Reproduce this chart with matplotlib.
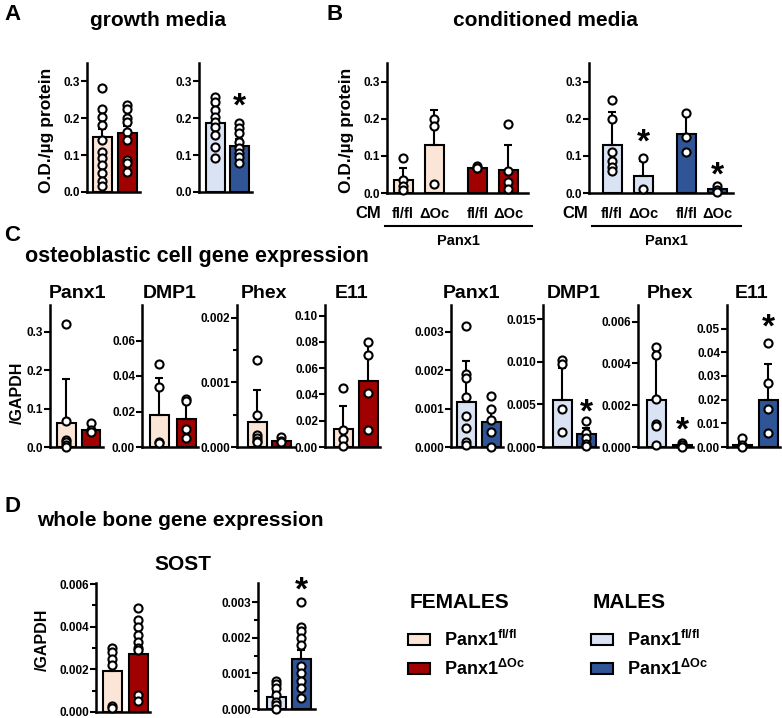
import numpy as np
import matplotlib
matplotlib.use("Agg")
import matplotlib.pyplot as plt
from matplotlib.patches import Patch
from matplotlib.lines import Line2D

plt.rcParams['font.family'] = ['Liberation Sans', 'DejaVu Sans']
plt.rcParams['font.weight'] = 'bold'
plt.rcParams['mathtext.fontset'] = 'custom'
plt.rcParams['mathtext.rm'] = 'Liberation Sans:bold'
plt.rcParams['mathtext.it'] = 'Liberation Sans:bold'
plt.rcParams['mathtext.bf'] = 'Liberation Sans:bold'
plt.rcParams['mathtext.default'] = 'bf'

W, H = 782, 718
F_FL, F_OC = "#FBE5D6", "#A00000"
M_FL, M_OC = "#DAE3F3", "#2F5597"

# ---- A: growth media (O.D./ug protein)
a_f_medias = [0.148, 0.160]
a_f_err = [0.022, 0.020]
a_f_pts = [[0.283, 0.226, 0.204, 0.183, 0.142, 0.109, 0.093, 0.074, 0.052, 0.03, 0.015],
           [0.237, 0.226, 0.20, 0.19, 0.163, 0.142, 0.087, 0.079, 0.054]]
a_m_medias = [0.188, 0.125]
a_m_err = [0.015, 0.020]
a_m_pts = [[0.259, 0.243, 0.223, 0.204, 0.19, 0.177, 0.155, 0.123, 0.093],
           [0.188, 0.174, 0.16, 0.136, 0.12, 0.106, 0.095, 0.08]]
a_m_estrella = 0.25

# ---- B: conditioned media
cm_etiquetas = ["fl/fl", "ΔOc", "fl/fl", "ΔOc"]
b_f_medias = [0.035, 0.13, 0.068, 0.062]
b_f_err = [0.033, 0.093, 0.004, 0.066]
b_f_pts = [[0.095, 0.035, 0.02, 0.008], [0.20, 0.18, 0.025],
           [0.072, 0.068, 0.066], [0.187, 0.06, 0.03, 0.01]]
b_m_medias = [0.13, 0.045, 0.158, 0.01]
b_m_err = [0.088, 0.040, 0.060, 0.006]
b_m_pts = [[0.25, 0.20, 0.11, 0.085, 0.07, 0.06], [0.095, 0.012],
           [0.215, 0.15, 0.11], [0.018, 0.008, 0.004]]
b_m_estrellas = {1: 0.153, 3: 0.063}

# ---- C: osteoblastic cell gene expression (/GAPDH)
genes = ["Panx1", "DMP1", "Phex", "E11"]
c_f_medias = [[0.062, 0.045], [0.018, 0.0155], [0.00038, 0.0001], [0.0135, 0.05]]
c_f_err = [[0.115, 0.0], [0.021, 0.011], [0.0005, 0.00005], [0.0175, 0.028]]
c_f_pts = [[[0.32, 0.068, 0.018, 0.012, 0.006, 0.0], [0.062, 0.045, 0.04]],
           [[0.047, 0.034, 0.003, 0.002], [0.027, 0.026, 0.01, 0.005]],
           [[0.00135, 0.0005, 0.00018, 0.00014, 0.0001, 0.00007], [0.00015, 0.0001, 0.00008]],
           [[0.045, 0.013, 0.006, 0.001], [0.08, 0.07, 0.041, 0.013]]]
c_m_medias = [[0.00118, 0.00065], [0.0055, 0.0015], [0.00225, 0.0001], [0.0008, 0.02]]
c_m_err = [[0.00105, 0.0003], [0.0038, 0.0007], [0.0025, 0.00005], [0.0012, 0.015]]
c_m_pts = [[[0.00315, 0.0019, 0.0018, 0.0013, 0.0008, 0.0005, 0.00012, 0.00005],
            [0.00133, 0.001, 0.0007, 0.0004, 0.0]],
           [[0.0102, 0.0098, 0.0045, 0.0018], [0.003, 0.0017, 0.001, 0.0004, 0.0001]],
           [[0.0048, 0.0044, 0.0023, 0.0011, 0.001, 0.0001], [0.0002, 0.0001, 0.0]],
           [[0.004, 0.001, 0.0], [0.044, 0.027, 0.016, 0.006]]]
c_m_estrellas = [None, 0.0048, 0.0011, 0.053]

c_f_ylim = [0.37, 0.08, 0.0022, 0.108]
c_f_ticks = [[0, 0.1, 0.2, 0.3], [0, 0.02, 0.04, 0.06], [0, 0.001, 0.002], [0, 0.02, 0.04, 0.06, 0.08, 0.10]]
c_f_tl = [["0.0", "0.1", "0.2", "0.3"], ["0.00", "0.02", "0.04", "0.06"],
          ["0.000", "0.001", "0.002"], ["0.00", "0.02", "0.04", "0.06", "0.08", "0.10"]]
c_m_ylim = [0.0037, 0.0167, 0.0068, 0.060]
c_m_ticks = [[0, 0.001, 0.002, 0.003], [0, 0.005, 0.010, 0.015], [0, 0.002, 0.004, 0.006],
             [0, 0.01, 0.02, 0.03, 0.04, 0.05]]
c_m_tl = [["0.000", "0.001", "0.002", "0.003"], ["0.000", "0.005", "0.010", "0.015"],
          ["0.000", "0.002", "0.004", "0.006"], ["0.00", "0.01", "0.02", "0.03", "0.04", "0.05"]]

# ---- D: whole bone SOST
d_f_medias = [0.0019, 0.0027]
d_f_err = [0.0004, 0.0006]
d_f_pts = [[0.003, 0.0028, 0.0025, 0.0022, 0.0003, 0.0002],
           [0.0049, 0.0043, 0.004, 0.0036, 0.0033, 0.003, 0.0029, 0.0008, 0.0005]]
d_m_medias = [0.00035, 0.0014]
d_m_err = [0.00012, 0.00025]
d_m_pts = [[0.0008, 0.0007, 0.0006, 0.0004, 0.0002, 0.0001, 0.0],
           [0.003, 0.0023, 0.0022, 0.002, 0.0018, 0.0012, 0.001, 0.0008, 0.0006, 0.0003]]
d_m_estrella = 0.0035

fig = plt.figure(figsize=(W / 100, H / 100), dpi=100)


def ejes(x0, x1, ytop, ybot):
    ax = fig.add_axes([x0 / W, 1 - ybot / H, (x1 - x0) / W, (ybot - ytop) / H])
    ax.patch.set_alpha(0)
    return ax


def barras(ax, pos, medias, errs, pts, colores, ancho):
    ax.bar(pos, medias, width=ancho, color=colores, edgecolor="black", linewidth=1.5, zorder=2)
    ax.errorbar(pos, medias, yerr=[np.zeros(len(errs)), errs], fmt="none", ecolor="black",
                elinewidth=1.5, capsize=3, capthick=1.5, zorder=3)
    for p, serie in zip(pos, pts):
        ax.scatter(np.full(len(serie), p), serie, s=34, facecolor="white", edgecolor="black",
                   linewidth=1.5, zorder=4, clip_on=False)


def estilo(ax, xlim, ytop, ticks, labels, menores=None):
    ax.set_xlim(*xlim)
    ax.set_ylim(0, ytop)
    ax.spines[["top", "right"]].set_visible(False)
    ax.spines[["left", "bottom"]].set_linewidth(1.8)
    ax.set_yticks(ticks)
    ax.set_yticklabels(labels)
    if menores:
        ax.set_yticks(menores, minor=True)
    ax.tick_params(axis="y", which="both", direction="out", length=4, width=1.5, labelsize=8.5, pad=1)
    ax.tick_params(axis="y", which="minor", length=3)
    ax.set_xticks([])


def estrella(ax, x, y):
    # el glifo "*" queda alto en su caja: se baja un poco
    ax.annotate("*", (x, y), xytext=(0, -5), textcoords="offset points", ha="center", va="center",
                fontsize=24, fontweight="bold", annotation_clip=False)


def texto(x, y, s, **kw):
    fig.text(x / W, 1 - y / H, s, **kw)


def dos_barras(x0, x1, ytop, ybot, c0, c1, medias, errs, pts, colores, ylim, ticks, tl, menores=None):
    s = c1 - c0
    ax = ejes(x0, x1, ytop, ybot)
    barras(ax, [0, 1], medias, errs, pts, colores, 19 / s)
    estilo(ax, ((x0 - c0) / s, (x1 - c0) / s), ylim, ticks, tl, menores)
    return ax


od_ticks = [0, 0.1, 0.2, 0.3]
od_tl = ["0.0", "0.1", "0.2", "0.3"]

# A
dos_barras(87, 140, 63, 192, 102, 127, a_f_medias, a_f_err, a_f_pts, [F_FL, F_OC], 0.35, od_ticks, od_tl)
ax = dos_barras(199, 252, 63, 192, 215, 239, a_m_medias, a_m_err, a_m_pts, [M_FL, M_OC], 0.35, od_ticks, od_tl)
estrella(ax, 1, a_m_estrella)

# B
pos4 = [0, 1, 2.4, 3.4]
for (x0, x1, c0, medias, errs, pts, colores, cmx, lx1) in [
        (387, 528, 403, b_f_medias, b_f_err, b_f_pts, [F_FL, F_FL, F_OC, F_OC], 368, 532),
        (589, 733, 612, b_m_medias, b_m_err, b_m_pts, [M_FL, M_FL, M_OC, M_OC], 575, 741)]:
    ax = ejes(x0, x1, 63, 193)
    barras(ax, pos4, medias, errs, pts, colores, 19 / 31)
    estilo(ax, ((x0 - c0) / 31, (x1 - c0) / 31), 0.35, od_ticks, od_tl)
    ax.set_xticks(pos4)
    ax.set_xticklabels(cm_etiquetas, fontsize=10.5)
    ax.tick_params(axis="x", length=0, pad=10)
    texto(cmx, 213, "CM", fontsize=12, ha="center", va="center")
    fig.add_artist(Line2D([(cmx + 17) / W, lx1 / W], [1 - 226 / H] * 2, color="black", lw=1.5))
    texto((cmx + 17 + lx1) / 2, 241, "Panx1", fontsize=10.5, ha="center", va="center")
for k, v in b_m_estrellas.items():
    estrella(ax, pos4[k], v)

# C
c_f_x = [(50, 103, 66, 91), (142, 198, 159, 186), (237, 295, 257, 281), (325, 380, 343, 368)]
c_m_x = [(451, 503, 466, 491), (543, 598, 562, 586), (638, 693, 656, 682), (727, 780, 742, 768)]
c_f_tit = [78, 170, 264, 352]
c_m_tit = [472, 574, 670, 752]
for i, g in enumerate(genes):
    x0, x1, c0, c1 = c_f_x[i]
    menores = [0.0005, 0.0015] if g == "Phex" else None
    dos_barras(x0, x1, 305, 447, c0, c1, c_f_medias[i], c_f_err[i], c_f_pts[i], [F_FL, F_OC],
               c_f_ylim[i], c_f_ticks[i], c_f_tl[i], menores)
    texto(c_f_tit[i], 293, g, fontsize=14, ha="center", va="center")
    x0, x1, c0, c1 = c_m_x[i]
    ax = dos_barras(x0, x1, 305, 447, c0, c1, c_m_medias[i], c_m_err[i], c_m_pts[i], [M_FL, M_OC],
                    c_m_ylim[i], c_m_ticks[i], c_m_tl[i])
    if c_m_estrellas[i] is not None:
        estrella(ax, 1, c_m_estrellas[i])
    texto(c_m_tit[i], 293, g, fontsize=14, ha="center", va="center")

# D
dos_barras(96, 150, 583, 712, 112, 138, d_f_medias, d_f_err, d_f_pts, [F_FL, F_OC], 0.00605,
           [0, 0.002, 0.004, 0.006], ["0.000", "0.002", "0.004", "0.006"], [0.001, 0.003, 0.005])
ax = dos_barras(258, 315, 583, 709, 276, 301, d_m_medias, d_m_err, d_m_pts, [M_FL, M_OC], 0.00354,
                [0, 0.001, 0.002, 0.003], ["0.000", "0.001", "0.002", "0.003"], [0.0005, 0.0015, 0.0025])
estrella(ax, 1, d_m_estrella)

# textos
texto(4, 15, "A", fontsize=16, ha="left", va="center")
texto(158, 20, "growth media", fontsize=15, ha="center", va="center")
texto(327, 15, "B", fontsize=16, ha="left", va="center")
texto(545, 20, "conditioned media", fontsize=15, ha="center", va="center")
texto(4, 236, "C", fontsize=16, ha="left", va="center")
texto(25, 257, "osteoblastic cell gene expression", fontsize=15.5, ha="left", va="center")
texto(5, 506, "D", fontsize=16, ha="left", va="center")
texto(37, 521, "whole bone gene expression", fontsize=15, ha="left", va="center")
texto(183, 565, "SOST", fontsize=15, ha="center", va="center")
texto(46, 130, "O.D./µg protein", fontsize=12.5, rotation=90, ha="center", va="center")
texto(347, 130, "O.D./µg protein", fontsize=12.5, rotation=90, ha="center", va="center")
texto(17, 393, "/GAPDH", fontsize=11.5, rotation=90, ha="center", va="center")
texto(42, 640, "/GAPDH", fontsize=11.5, rotation=90, ha="center", va="center")

# leyendas
etiquetas = ["Panx1$^{fl/fl}$", "Panx1$^{ΔOc}$"]
for titulo, cols, xl in [("FEMALES", [F_FL, F_OC], 408), ("MALES", [M_FL, M_OC], 591)]:
    texto(xl + 2, 602, titulo, fontsize=15, ha="left", va="center")
    manejadores = [Patch(facecolor=c, edgecolor="black", linewidth=1.5) for c in cols]
    fig.legend(manejadores, etiquetas, loc="upper left",
               bbox_to_anchor=(xl / W, 1 - 630 / H), frameon=False, fontsize=13,
               handlelength=1.2, handleheight=0.55, labelspacing=0.5, handletextpad=0.8,
               borderpad=0, borderaxespad=0)

fig.savefig("out.png", dpi=100)
